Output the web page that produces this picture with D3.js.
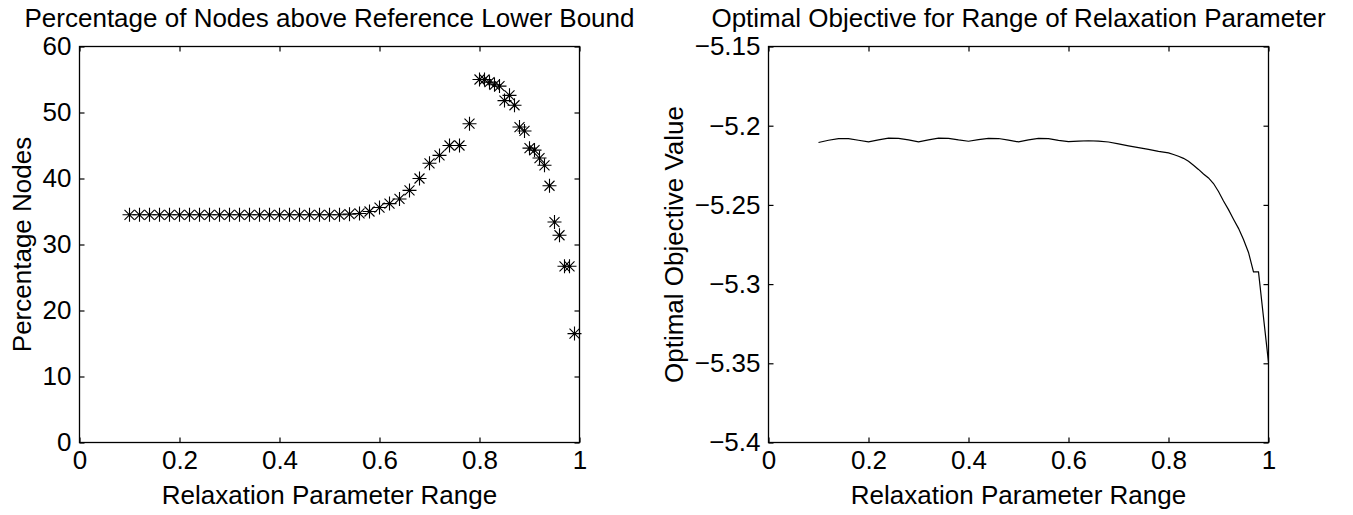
<!DOCTYPE html>
<html>
<head>
<meta charset="utf-8">
<script src="https://cdn.jsdelivr.net/npm/d3@7"></script>
<style>
  body { margin: 0; background: #fff; }
  text { font-family: "Liberation Sans", Arial, Helvetica, sans-serif; fill: #000; }
</style>
</head>
<body>
<div id="chart"></div>
<script>
// relaxation parameter values (0.1:0.02:0.78, then 0.80:0.01:0.99)
var relaxX = [0.10, 0.12, 0.14, 0.16, 0.18, 0.20, 0.22, 0.24, 0.26, 0.28,
  0.30, 0.32, 0.34, 0.36, 0.38, 0.40, 0.42, 0.44, 0.46, 0.48,
  0.50, 0.52, 0.54, 0.56, 0.58, 0.60, 0.62, 0.64, 0.66, 0.68,
  0.70, 0.72, 0.74, 0.76, 0.78,
  0.80, 0.81, 0.82, 0.83, 0.84, 0.85, 0.86, 0.87, 0.88, 0.89,
  0.90, 0.91, 0.92, 0.93, 0.94, 0.95, 0.96, 0.97, 0.98, 0.99];

// percentage of nodes above reference lower bound
var pctNodes = [34.5, 34.5, 34.5, 34.5, 34.5, 34.5, 34.5, 34.5, 34.5, 34.5,
  34.5, 34.5, 34.5, 34.5, 34.5, 34.5, 34.5, 34.5, 34.5, 34.5,
  34.5, 34.5, 34.6, 34.7, 35.0, 35.6, 36.2, 36.9, 38.2, 40.0,
  42.3, 43.5, 45.0, 45.0, 48.3,
  55.0, 55.0, 54.6, 54.2, 54.0, 51.8, 52.6, 51.1, 47.8, 47.2,
  44.6, 44.3, 43.1, 42.0, 38.9, 33.4, 31.4, 26.7, 26.7, 16.5];

// optimal objective line (same grid, plus end point at 1.0)
var objX = relaxX.concat([1.00]);
var objVal = [-5.2106, -5.2092, -5.2082, -5.2082, -5.2092, -5.2102, -5.2090, -5.2079, -5.2080, -5.2090,
  -5.2102, -5.2090, -5.2079, -5.2080, -5.2090, -5.2098, -5.2088, -5.2080, -5.2081, -5.2091,
  -5.2102, -5.2090, -5.2080, -5.2082, -5.2093, -5.2101, -5.2098, -5.2095, -5.2097, -5.2103,
  -5.2115, -5.2127, -5.2138, -5.2150, -5.2162,
  -5.2172, -5.2182, -5.2193, -5.2206, -5.2225, -5.2250, -5.2276, -5.2305, -5.2330, -5.2365,
  -5.2415, -5.2475, -5.2530, -5.2590, -5.2648, -5.2718, -5.2800, -5.2923, -5.2923, -5.3210,
  -5.3495];

var xTicks = [0, 0.2, 0.4, 0.6, 0.8, 1];
var leftYTicks = [0, 10, 20, 30, 40, 50, 60];
var rightYTicks = [-5.4, -5.35, -5.3, -5.25, -5.2, -5.15];

var svgWidth = 1353;
var svgHeight = 515;
var fontSize = 26;

var svg = d3.select("#chart")
  .append("svg")
  .attr("width", svgWidth)
  .attr("height", svgHeight);

// draws one boxed matlab-style axes, returns the scales
function makeAxes(left, top, w, h, yDomain, yTicks, yFmt, title, xLabel, yLabel, yLabelX) {
  var g = svg.append("g").attr("transform", `translate(${left}, ${top})`);

  var x = d3.scaleLinear().domain([0, 1]).range([0, w]);
  var y = d3.scaleLinear().domain(yDomain).range([h, 0]);

  var xFmt = d => d3.format("~g")(d);

  g.append("g")
    .attr("transform", `translate(0, ${h})`)
    .call(d3.axisBottom(x).tickValues(xTicks).tickFormat(xFmt).tickSizeInner(-5).tickSizeOuter(0).tickPadding(8));
  g.append("g")
    .call(d3.axisTop(x).tickValues(xTicks).tickFormat("").tickSizeInner(-5).tickSizeOuter(0));
  g.append("g")
    .call(d3.axisLeft(y).tickValues(yTicks).tickFormat(yFmt).tickSizeInner(-5).tickSizeOuter(0).tickPadding(8));
  g.append("g")
    .attr("transform", `translate(${w}, 0)`)
    .call(d3.axisRight(y).tickValues(yTicks).tickFormat("").tickSizeInner(-5).tickSizeOuter(0));

  g.selectAll(".domain").remove();
  g.selectAll(".tick line").attr("stroke", "#000").attr("stroke-width", 1.2);
  g.selectAll(".tick text").style("font-size", fontSize + "px").attr("fill", "#000");

  g.append("rect")
    .attr("width", w)
    .attr("height", h)
    .attr("fill", "none")
    .attr("stroke", "#000")
    .attr("stroke-width", 1.3);

  // title
  g.append("text")
    .attr("x", w / 2)
    .attr("y", -20)
    .attr("text-anchor", "middle")
    .style("font-size", fontSize + "px")
    .text(title);

  // x label
  g.append("text")
    .attr("x", w / 2)
    .attr("y", h + 61)
    .attr("text-anchor", "middle")
    .style("font-size", fontSize + "px")
    .text(xLabel);

  // y label
  g.append("text")
    .attr("transform", `translate(${yLabelX}, ${h / 2}) rotate(-90)`)
    .attr("text-anchor", "middle")
    .style("font-size", fontSize + "px")
    .text(yLabel);

  return { g: g, x: x, y: y };
}

var leftAx = makeAxes(79.5, 46.5, 500, 396, [0, 60], leftYTicks, d => d3.format("~g")(d),
  "Percentage of Nodes above Reference Lower Bound",
  "Relaxation Parameter Range", "Percentage Nodes", -49);

var rightAx = makeAxes(768.5, 46.5, 500, 396, [-5.4, -5.15], rightYTicks, d => d3.format(".3~r")(d),
  "Optimal Objective for Range of Relaxation Parameter",
  "Relaxation Parameter Range", "Optimal Objective Value", -86);

// asterisk markers
var star = "M0,-7V7M-7,0H7M-5,-5L5,5M-5,5L5,-5";
leftAx.g.selectAll("path.star")
  .data(relaxX)
  .enter()
  .append("path")
  .attr("class", "star")
  .attr("d", star)
  .attr("transform", (d, i) => `translate(${leftAx.x(d)}, ${leftAx.y(pctNodes[i])})`)
  .attr("stroke", "#000")
  .attr("stroke-width", 1.1)
  .attr("fill", "none");

// objective line
var line = d3.line()
  .x((d, i) => rightAx.x(objX[i]))
  .y(d => rightAx.y(d));

rightAx.g.append("path")
  .datum(objVal)
  .attr("d", line)
  .attr("fill", "none")
  .attr("stroke", "#000")
  .attr("stroke-width", 1.2);
</script>
</body>
</html>
